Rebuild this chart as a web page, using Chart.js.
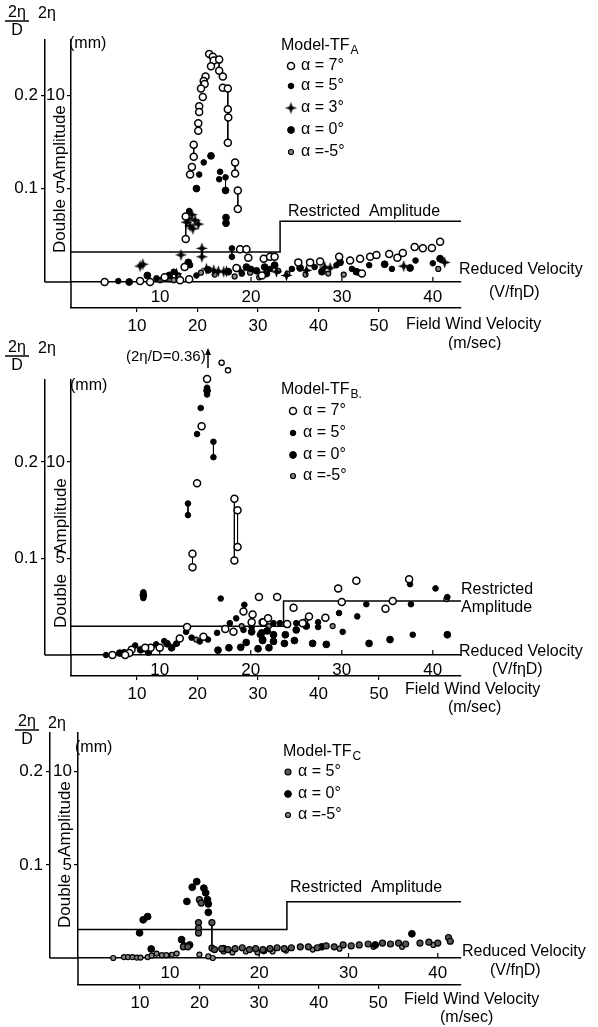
<!DOCTYPE html>
<html lang="en">
<head>
<meta charset="UTF-8">
<title>Double Amplitude vs Reduced Velocity</title>
<style>
  body { margin: 0; background: #fff; }
  #page { position: relative; width: 598px; height: 1027px; }
  canvas { position: absolute; left: 0; }
</style>
<script src="https://cdn.jsdelivr.net/npm/chart.js"></script>
</head>
<body>
<div id="page">
  <canvas id="chartA" width="598" height="350" style="top:0px"></canvas>
  <canvas id="chartB" width="598" height="390" style="top:330px"></canvas>
  <canvas id="chartC" width="598" height="327" style="top:700px"></canvas>
</div>
<script>
// ---- tick labels ----
const rvTicks = [10, 20, 30, 40];          // reduced velocity V/fηD
const windTicks = [10, 20, 30, 40, 50];    // field wind velocity (m/sec)
const ratioTicks = [0.1, 0.2];             // 2η/D
const mmTicks = [5, 10];                   // 2η (mm)

// ---- Model-TF_A : [reduced velocity, 2η/D] ----
const tfA_alpha7 = [[15.4,0.244],[15.8,0.241],[15.9,0.237],[15.6,0.231],[16.5,0.238],[16.5,0.226],[16.9,0.220],[16.9,0.208],
  [17.45,0.207],[15.0,0.220],[14.8,0.215],[14.9,0.212],[14.5,0.207],[14.7,0.198],[14.3,0.188],[14.3,0.182],[14.2,0.170],
  [14.2,0.162],[17.45,0.185],[17.5,0.176],[17.45,0.149],[13.7,0.147],[13.7,0.134],[13.5,0.123],[13.3,0.115],[18.25,0.128],
  [18.25,0.116],[18.55,0.098],[18.55,0.078],[12.82,0.070],[12.82,0.046],[3.9,0.0],[7.8,0.001],[8.9,0.0],[10.5,0.005],
  [12.2,0.002],[12.7,0.016],[13.2,0.003],[18.8,0.035],[19.5,0.035],[19.7,0.026],[18.4,0.015],[21.2,0.007],[21.4,0.025],
  [22.1,0.027],[22.6,0.027],[25.2,0.021],[26.5,0.021],[27.6,0.022],[29.7,0.027],[30.9,0.023],[32.0,0.025],[32.2,0.009],
  [33.1,0.027],[33.8,0.029],[35.2,0.030],[36.1,0.026],[36.7,0.031],[38.0,0.0375],[38.9,0.036],[39.9,0.0365],[40.8,0.043]];
const tfA_alpha5 = [[14.8,0.128],[14.3,0.115],[16.6,0.118],[16.5,0.110],[17.2,0.112],[13.2,0.076],[17.9,0.036],[17.9,0.027],
  [5.4,0.001],[9.6,0.004],[11.5,0.011],[13.3,0.018],[14.0,0.007],[19.0,0.009],[20.0,0.014],[22.1,0.014],[24.5,0.014],
  [27.0,0.016],[29.4,0.018],[31.1,0.014],[33.0,0.018],[35.5,0.014],[38.1,0.023],[40.0,0.020]];
const tfA_alpha3 = [[13.1,0.068],[13.5,0.072],[13.85,0.066],[13.3,0.060],[14.2,0.062],[12.9,0.064],[13.6,0.057],[12.3,0.029],
  [14.6,0.036],[14.6,0.027],[7.8,0.017],[8.1,0.019],[11.8,0.009],[15.1,0.014],[15.9,0.0125],[16.4,0.0115],[17.0,0.011],
  [17.3,0.0115],[18.8,0.012],[22.8,0.011],[23.9,0.007],[26.1,0.0125],[28.1,0.016],[28.7,0.015],[36.8,0.017],[41.3,0.021]];
const tfA_alpha0 = [[15.6,0.135],[14.0,0.100],[17.2,0.098],[17.25,0.069],[17.25,0.063],[6.6,0.0],[8.6,0.007],[11.0,0.007],
  [13.1,0.021],[15.3,0.013],[17.5,0.011],[19.5,0.016],[20.6,0.012],[21.5,0.016],[21.7,0.009],[22.6,0.018],[25.4,0.015],
  [27.8,0.011],[29.8,0.021],[31.6,0.011],[34.7,0.019],[37.5,0.015],[40.8,0.025]];
const tfA_alphaM5 = [[10.0,0.002],[11.1,0.003],[11.5,0.002],[12.0,0.006],[14.5,0.010],[16.0,0.008],[18.2,0.006],[19.9,0.010],
  [20.9,0.005],[23.0,0.012],[24.0,0.009],[26.0,0.008],[28.5,0.009],[30.2,0.008],[31.9,0.010],[40.6,0.014]];
const tfA_links = [[13.7,0.147,0.134],[16.5,0.238,0.226],[17.45,0.207,0.149],[18.25,0.128,0.116],[18.55,0.098,0.078],
  [12.82,0.070,0.046],[14.3,0.188,0.182],[14.2,0.170,0.162],[17.2,0.112,0.098],[14.6,0.036,0.027],[17.9,0.036,0.027],
  [17.25,0.069,0.063]];
const tfA_restricted = [[0.2,0.032],[23.2,0.032],[23.2,0.065],[43.1,0.065]];

// ---- Model-TF_B ----
const tfB_alpha7 = [[15.2,0.286],[14.6,0.237],[14.1,0.178],[18.2,0.162],[18.55,0.150],[18.55,0.112],
  [18.2,0.098],[13.6,0.105],[13.6,0.091],[20.9,0.060],[22.9,0.060],[19.2,0.045],[20.2,0.042],[21.3,0.034],[20.1,0.034],
  [17.2,0.027],[18.1,0.024],[13.0,0.029],[14.8,0.019],[12.2,0.017],[10.0,0.0075],[9.0,0.0075],[8.4,0.0075],[6.9,0.0054],
  [6.65,0.002],[4.8,0.0],[6.2,0.0],[29.6,0.069],[31.6,0.077],[37.4,0.0786],[30.0,0.055],[35.6,0.056],[24.7,0.049],
  [34.8,0.048],[26.4,0.040],[28.2,0.0387],[25.7,0.033],[24.0,0.032],[21.4,0.034],[21.9,0.038]];
const tfB_alpha7_offScale = [[16.8,0.303],[17.5,0.295]];   // plotted above the axis (2η/D = 0.36)
const tfB_alpha5 = [[15.2,0.277],[15.2,0.270],[14.5,0.256],[14.1,0.229],[15.9,0.221],[15.9,0.205],[13.1,0.157],[13.1,0.145],
  [8.2,0.065],[8.2,0.059],[16.7,0.0585],[19.3,0.052],[18.4,0.038],[17.7,0.033],[20.1,0.029],[19.2,0.026],[12.9,0.024],
  [16.3,0.023],[21.0,0.021],[13.5,0.018],[14.4,0.014],[15.3,0.016],[11.8,0.0117],[10.5,0.0144],[9.6,0.011],[7.3,0.0099],
  [6.1,0.003],[4.1,0.0],[22.5,0.033],[23.2,0.033],[25.0,0.033],[27.4,0.034],[27.4,0.029],[29.7,0.0435],[31.7,0.040],
  [32.7,0.0526],[37.6,0.0526],[37.5,0.0734],[40.3,0.069],[41.6,0.060],[30.1,0.024],[37.8,0.021]];
const tfB_alpha0 = [[15.2,0.274],[8.2,0.062],[20.1,0.024],[21.3,0.016],[19.5,0.013],[16.4,0.005],[17.6,0.0075],[18.9,0.008],
  [20.8,0.0065],[22.0,0.0075],[11.3,0.0075],[10.8,0.0117],[8.75,0.003],[7.9,0.0054],[5.6,0.002],[21.2,0.023],[21.8,0.025],
  [22.5,0.021],[23.8,0.021],[21.3,0.015],[22.5,0.014],[23.7,0.012],[24.8,0.015],[26.8,0.012],[28.3,0.011],[25.0,0.026],
  [26.1,0.030],[33.0,0.012],[35.3,0.016],[41.6,0.021]];
const tfB_alphaM5 = [[11.9,0.012],[14.0,0.016],[19.0,0.030],[22.0,0.030],[26.0,0.035],[29.0,0.030],[41.5,0.058]];
const tfB_links = [[15.9,0.221,0.205],[13.1,0.157,0.145],[13.6,0.105,0.091],[18.2,0.162,0.098],[18.55,0.150,0.112],
  [37.5,0.0786,0.0734]];
const tfB_restricted = [[0.25,0.0297],[23.6,0.0297],[23.6,0.056],[43.1,0.056]];

// ---- Model-TF_C ----
const tfC_alpha5 = [[13.3,0.0626],[13.5,0.059],[13.2,0.038],[13.2,0.032],[13.2,0.0268],[14.7,0.038],[14.7,0.0107],[11.5,0.012],
  [12.0,0.012],[15.0,0.009],[15.8,0.010],[16.5,0.009],[17.3,0.010],[18.1,0.011],[18.9,0.009],[19.6,0.010],[20.4,0.009],
  [21.2,0.010],[22.0,0.011],[22.8,0.010],[23.6,0.011],[24.6,0.012],[25.5,0.012],[26.5,0.011],[27.5,0.013],[28.4,0.012],
  [29.4,0.014],[30.3,0.013],[31.2,0.014],[32.2,0.015],[33.8,0.016],[34.7,0.015],[35.6,0.016],[36.4,0.015],[38.0,0.016],
  [39.0,0.017],[40.0,0.016],[41.2,0.022],[41.4,0.018]];
const tfC_alpha0 = [[6.6,0.027],[7.0,0.041],[7.5,0.0445],[7.9,0.0097],[11.3,0.0197],[11.9,0.0607],[12.5,0.076],[13.0,0.082],
  [13.8,0.075],[14.0,0.070],[14.2,0.0626],[14.3,0.058],[14.3,0.049],[11.6,0.013],[12.2,0.014],[37.1,0.026],[16.0,0.010],
  [20.5,0.008],[27.0,0.012],[33.0,0.014]];
const tfC_alphaM5 = [[3.65,0.0],[4.85,0.001],[5.3,0.001],[5.8,0.001],[6.3,0.0005],[6.7,0.0005],[7.5,0.001],[7.95,0.0025],
  [8.5,0.0047],[9.1,0.003],[9.6,0.003],[10.2,0.0035],[10.75,0.0047],[13.3,0.0036],[14.3,0.0017],[14.8,0.0],[16.0,0.007],
  [17.0,0.006],[18.5,0.007],[19.8,0.006],[21.5,0.007],[23.0,0.008],[26.0,0.009],[29.0,0.010],[32.8,0.012],[36.0,0.012],
  [39.5,0.014]];
const tfC_links = [[14.7,0.038,0.0107],[13.2,0.038,0.0268]];
const tfC_restricted = [[-0.3,0.0307],[23.1,0.0307],[23.1,0.0604],[42.6,0.0604]];

// ---- marker styles ----
const starImg = (function () {
  const c = document.createElement('canvas');
  c.width = c.height = 13;
  const g = c.getContext('2d');
  g.translate(6.5, 6.5);
  g.beginPath();
  for (let i = 0; i < 8; i++) {
    const r = i % 2 ? 2.2 : 6;
    const a = i * Math.PI / 4 - Math.PI / 2;
    g.lineTo(r * Math.cos(a), r * Math.sin(a));
  }
  g.closePath();
  g.fillStyle = '#000';
  g.fill();
  return c;
})();

const marks = {
  open: { pointStyle: 'circle', pointRadius: 3.5, pointBackgroundColor: '#fff', pointBorderColor: '#000', pointBorderWidth: 1.5 },
  smallOpen: { pointStyle: 'circle', pointRadius: 2.6, pointBackgroundColor: '#fff', pointBorderColor: '#000', pointBorderWidth: 1.3 },
  dot5: { pointStyle: 'circle', pointRadius: 2.8, pointBackgroundColor: '#000', pointBorderColor: '#000', pointBorderWidth: 1 },
  dot0: { pointStyle: 'circle', pointRadius: 3.4, pointBackgroundColor: '#000', pointBorderColor: '#000', pointBorderWidth: 1 },
  star: { pointStyle: starImg, pointRadius: 6 },
  half: { pointStyle: 'circle', pointRadius: 2.5, pointBackgroundColor: '#888', pointBorderColor: '#000', pointBorderWidth: 1.2 },
  grey: { pointStyle: 'circle', pointRadius: 3, pointBackgroundColor: '#555', pointBorderColor: '#000', pointBorderWidth: 1.2 }
};

const WORD = '16px "Liberation Sans", Arial, sans-serif';
const tickFont = { family: '"Liberation Sans", Arial, sans-serif', size: 17 };

function drawMark(ctx, m, x, y) {
  if (m.pointStyle === starImg) {
    ctx.drawImage(starImg, x - 6.5, y - 6.5);
    return;
  }
  ctx.beginPath();
  ctx.arc(x, y, m.pointRadius, 0, Math.PI * 2);
  ctx.fillStyle = m.pointBackgroundColor;
  ctx.fill();
  ctx.lineWidth = m.pointBorderWidth;
  ctx.strokeStyle = m.pointBorderColor;
  ctx.stroke();
}

function makePanel(id, cfg) {
  const toPts = arr => arr.map(p => ({ x: p[0], y: p[1] }));
  const linkPts = [];
  cfg.links.forEach(l => {
    linkPts.push({ x: l[0], y: l[1] }, { x: l[0], y: l[2] }, { x: l[0], y: null });
  });

  const datasets = cfg.series.map(s => Object.assign({ data: toPts(s.data), clip: false }, marks[s.mark]));
  datasets.push({ data: linkPts, showLine: true, pointRadius: 0, borderColor: '#000', borderWidth: 1, spanGaps: false });
  datasets.push({ data: toPts(cfg.restricted), showLine: true, pointRadius: 0, borderColor: '#000', borderWidth: 1.5 });

  const top = cfg.top;
  const extras = {
    id: 'extras',
    afterDraw(chart) {
      const ctx = chart.ctx, a = chart.chartArea;
      const xs = chart.scales.x, ys = chart.scales.y;
      const yOut = chart.scales.y, x2 = chart.scales.x2;
      ctx.save();
      ctx.strokeStyle = '#000';
      ctx.lineWidth = 1.5;
      ctx.beginPath();
      ctx.moveTo(yOut.right, a.bottom); ctx.lineTo(a.left, a.bottom);
      ctx.moveTo(a.left, a.bottom); ctx.lineTo(a.left, x2.top);
      ctx.stroke();

      // reduced-velocity tick marks point up into the plot, as in the original
      ctx.lineWidth = 1.2;
      ctx.beginPath();
      rvTicks.forEach(v => {
        const px = xs.getPixelForValue(v);
        ctx.moveTo(px, a.bottom); ctx.lineTo(px, a.bottom - 5);
      });
      ctx.stroke();

      // points lying above the top of the axis (not drawn by the dataset outside the chart area)
      (cfg.offScale || []).forEach(p => {
        drawMark(ctx, marks.smallOpen, xs.getPixelForValue(p[0]), ys.getPixelForValue(p[1]));
      });

      ctx.fillStyle = '#000';
      ctx.textBaseline = 'middle';
      ctx.textAlign = 'left';
      ctx.font = WORD;
      // 2η / D fraction and 2η, (mm)
      const f = cfg.frac;
      ctx.textAlign = 'center';
      ctx.fillText('2η', f[0], f[1] - top);
      ctx.fillText('D', f[0], f[1] + 18 - top);
      ctx.beginPath();
      ctx.lineWidth = 1.5;
      ctx.strokeStyle = '#000';
      ctx.moveTo(f[0] - 12, f[1] + 8 - top); ctx.lineTo(f[0] + 12, f[1] + 8 - top);
      ctx.stroke();
      ctx.textAlign = 'left';
      ctx.fillText('2η', cfg.eta[0], cfg.eta[1] - top);
      ctx.fillText('(mm)', cfg.mm[0], cfg.mm[1] - top);

      // vertical axis title
      ctx.save();
      ctx.font = '17px "Liberation Sans", Arial, sans-serif';
      ctx.textAlign = 'center';
      ctx.translate(cfg.vert[0], 0);
      ctx.rotate(-Math.PI / 2);
      ctx.fillText('Amplitude', -(cfg.vert[1] - top), 0);
      ctx.fillText('Double', -(cfg.vert[2] - top), 0);
      ctx.restore();

      // legend
      const lg = cfg.legend;
      ctx.fillText('Model-TF', lg.x, lg.y - top);
      const w = ctx.measureText('Model-TF').width;
      ctx.font = '12px "Liberation Sans", Arial, sans-serif';
      ctx.fillText(lg.sub, lg.x + w + 1, lg.y + 5 - top);
      ctx.font = WORD;
      lg.rows.forEach((r, i) => {
        const yy = lg.rowY[i] - top;
        drawMark(ctx, marks[r.mark], lg.markX, yy);
        ctx.fillStyle = '#000';
        ctx.fillText(r.text, lg.markX + 10, yy);
      });

      // free labels
      cfg.labels.forEach(t => {
        ctx.font = t[3] || WORD;
        ctx.fillText(t[0], t[1], t[2] - top);
      });

      if (cfg.arrow) {
        const ar = cfg.arrow;
        ctx.beginPath();
        ctx.lineWidth = 1.5;
        ctx.moveTo(ar[0], ar[2] - top); ctx.lineTo(ar[0], ar[1] - top);
        ctx.stroke();
        ctx.beginPath();
        ctx.moveTo(ar[0], ar[1] - 2 - top);
        ctx.lineTo(ar[0] - 3, ar[1] + 5 - top);
        ctx.lineTo(ar[0] + 3, ar[1] + 5 - top);
        ctx.closePath();
        ctx.fill();
      }
      ctx.restore();
    }
  };

  const axisBase = {
    type: 'linear',
    grid: { drawOnChartArea: false, color: '#000', tickLength: 4, lineWidth: 1.2 },
    border: { color: '#000', width: 1.5 },
    ticks: { color: '#000', font: tickFont, padding: 2, maxRotation: 0, callback: v => String(v) }
  };
  const axis = (extra) => Object.assign({}, axisBase, extra, {
    grid: Object.assign({}, axisBase.grid, extra.grid || {}),
    ticks: Object.assign({}, axisBase.ticks, extra.ticks || {})
  });

  new Chart(document.getElementById(id), {
    type: 'scatter',
    data: { datasets },
    options: {
      responsive: false,
      animation: false,
      layout: { padding: cfg.pad },
      plugins: { legend: { display: false }, tooltip: { enabled: false } },
      scales: {
        x: axis({ position: 'bottom', weight: 0, min: cfg.rv[0], max: cfg.rv[1],
          afterFit: s => { s.height = cfg.xH; },
          afterBuildTicks: s => { s.ticks = rvTicks.map(v => ({ value: v })); },
          grid: { drawTicks: false }, ticks: { padding: 5 } }),
        x2: axis({ position: 'bottom', weight: 1, min: cfg.wind[0], max: cfg.wind[1],
          afterFit: s => { s.height = cfg.x2H; },
          afterBuildTicks: s => { s.ticks = windTicks.map(v => ({ value: v })); },
          ticks: { padding: 4 } }),
        y: axis({ position: 'left', weight: 1, min: 0, max: cfg.ratioMax,
          afterFit: s => { s.width = cfg.yW; },
          afterBuildTicks: s => { s.ticks = ratioTicks.map(v => ({ value: v })); },
          ticks: { padding: 3 } }),
        y2: axis({ position: 'left', weight: 0, min: 0, max: cfg.ratioMax * 50,
          afterFit: s => { s.width = cfg.y2W; },
          afterBuildTicks: s => { s.ticks = mmTicks.map(v => ({ value: v })); } })
      }
    },
    plugins: [extras]
  });
}

makePanel('chartA', {
  top: 0, pad: { top: 40, left: 0, right: 137, bottom: 0 },
  xH: 26, x2H: 42, yW: 45, y2W: 26,
  rv: [0.2, 43.1], wind: [-0.9, 63.55], ratioMax: 0.259,
  series: [
    { data: tfA_alpha7, mark: 'open' }, { data: tfA_alpha5, mark: 'dot5' }, { data: tfA_alpha3, mark: 'star' },
    { data: tfA_alpha0, mark: 'dot0' }, { data: tfA_alphaM5, mark: 'half' }
  ],
  links: tfA_links, restricted: tfA_restricted,
  frac: [17, 13], eta: [38, 14], mm: [69, 44], vert: [60, 143, 226],
  legend: { x: 281, y: 46, sub: 'A', markX: 291, rowY: [66, 86, 108, 130, 152],
    rows: [{ mark: 'open', text: 'α = 7°' }, { mark: 'dot5', text: 'α = 5°' }, { mark: 'star', text: 'α = 3°' },
           { mark: 'dot0', text: 'α = 0°' }, { mark: 'half', text: 'α =-5°' }] },
  labels: [['Restricted  Amplitude', 288, 212], ['Reduced Velocity', 459, 270], ['(V/fηD)', 489, 293],
           ['Field Wind Velocity', 406, 325], ['(m/sec)', 448, 344]]
});

makePanel('chartB', {
  top: 330, pad: { top: 50, left: 0, right: 137, bottom: 0 },
  xH: 21, x2H: 44, yW: 45, y2W: 26,
  rv: [0.25, 43.1], wind: [-0.9, 63.55], ratioMax: 0.285,
  series: [
    { data: tfB_alpha7, mark: 'open' }, { data: tfB_alpha5, mark: 'dot5' },
    { data: tfB_alpha0, mark: 'dot0' }, { data: tfB_alphaM5, mark: 'half' }
  ],
  offScale: tfB_alpha7_offScale,
  links: tfB_links, restricted: tfB_restricted,
  frac: [17, 348], eta: [38, 349], mm: [70, 386], vert: [61, 516, 601],
  legend: { x: 281, y: 390, sub: 'B.', markX: 293, rowY: [411, 433, 455, 476],
    rows: [{ mark: 'open', text: 'α = 7°' }, { mark: 'dot5', text: 'α = 5°' },
           { mark: 'dot0', text: 'α = 0°' }, { mark: 'half', text: 'α =-5°' }] },
  labels: [['(2η/D=0.36)', 126, 357, '15px "Liberation Sans", Arial, sans-serif'], ['Restricted', 461, 590], ['Amplitude', 461, 608],
           ['Reduced Velocity', 459, 652], ['(V/fηD)', 492, 670],
           ['Field Wind Velocity', 405, 690], ['(m/sec)', 448, 708]],
  arrow: [208, 350, 368]
});

makePanel('chartC', {
  top: 700, pad: { top: 33, left: 0, right: 137, bottom: 0 },
  xH: 27, x2H: 42, yW: 50, y2W: 28,
  rv: [-0.3, 42.6], wind: [-0.4, 63.9], ratioMax: 0.2415,
  series: [
    { data: tfC_alpha5, mark: 'grey' }, { data: tfC_alpha0, mark: 'dot0' }, { data: tfC_alphaM5, mark: 'half' }
  ],
  links: tfC_links, restricted: tfC_restricted,
  frac: [27, 722], eta: [48, 724], mm: [75, 748], vert: [65, 819, 901],
  legend: { x: 283, y: 752, sub: 'C', markX: 288, rowY: [772, 794, 815],
    rows: [{ mark: 'grey', text: 'α = 5°' }, { mark: 'dot0', text: 'α = 0°' }, { mark: 'half', text: 'α =-5°' }] },
  labels: [['Restricted  Amplitude', 290, 888], ['Reduced Velocity', 462, 952], ['(V/fηD)', 490, 971],
           ['Field Wind Velocity', 404, 1000], ['(m/sec)', 440, 1018]]
});
</script>
</body>
</html>
